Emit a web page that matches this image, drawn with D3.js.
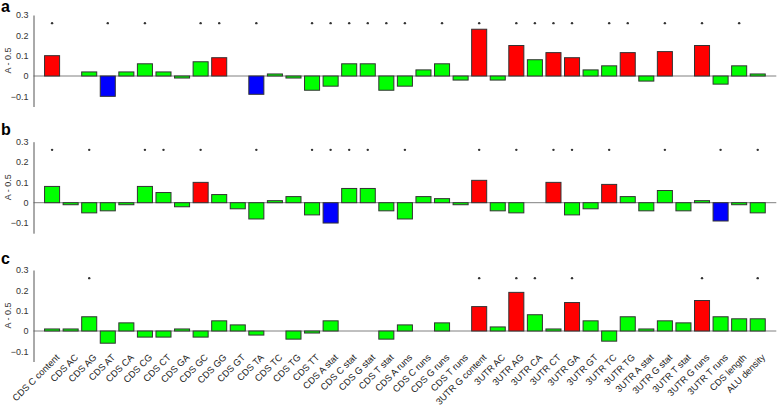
<!DOCTYPE html>
<html>
<head>
<meta charset="utf-8">
<script src="https://cdn.jsdelivr.net/npm/d3@7"></script>
<style>
  body { margin: 0; background: #fff; }
  svg { display: block; font-family: Arial, "Liberation Sans", sans-serif; }
</style>
</head>
<body>
<svg id="chart" width="778" height="405"></svg>
<script>
const categories = ["CDS C content", "CDS AC", "CDS AG", "CDS AT", "CDS CA", "CDS CG", "CDS CT", "CDS GA",
  "CDS GC", "CDS GG", "CDS GT", "CDS TA", "CDS TC", "CDS TG", "CDS TT", "CDS A stat", "CDS C stat",
  "CDS G stat", "CDS T stat", "CDS A runs", "CDS C runs", "CDS G runs", "CDS T runs", "3UTR G content",
  "3UTR AC", "3UTR AG", "3UTR CA", "3UTR CT", "3UTR GA", "3UTR GT", "3UTR TC", "3UTR TG", "3UTR A stat",
  "3UTR G stat", "3UTR T stat", "3UTR G runs", "3UTR T runs", "CDS length", "ALU density"];

const valuesA = [0.10, 0, 0.02, -0.10, 0.02, 0.06, 0.02, -0.01, 0.07, 0.09, 0, -0.09, 0.01, -0.01, -0.07,
  -0.05, 0.06, 0.06, -0.07, -0.05, 0.03, 0.06, -0.02, 0.23, -0.02, 0.15, 0.08, 0.115, 0.09, 0.03, 0.05,
  0.115, -0.025, 0.12, 0, 0.15, -0.04, 0.05, 0.01];
const valuesB = [0.08, -0.01, -0.05, -0.04, -0.01, 0.08, 0.05, -0.02, 0.10, 0.04, -0.03, -0.08, 0.01, 0.03,
  -0.06, -0.10, 0.07, 0.07, -0.04, -0.08, 0.03, 0.02, -0.01, 0.11, -0.04, -0.05, 0, 0.10, -0.06, -0.03,
  0.09, 0.03, -0.04, 0.06, -0.04, 0.01, -0.09, -0.01, -0.05];
const valuesC = [0.01, 0.01, 0.07, -0.06, 0.04, -0.03, -0.03, 0.01, -0.03, 0.05, 0.03, -0.02, 0, -0.04,
  -0.01, 0.05, 0, 0, -0.04, 0.03, 0, 0.04, 0, 0.12, 0.02, 0.19, 0.08, 0.01, 0.14, 0.05, -0.05, 0.07, 0.01,
  0.05, 0.04, 0.15, 0.07, 0.06, 0.06];

// 1-based positions of the categories marked with a dot
const signifA = [1, 4, 6, 9, 10, 12, 15, 16, 17, 18, 19, 20, 22, 24, 26, 27, 28, 29, 31, 32, 34, 36, 38];
const signifB = [1, 3, 6, 7, 9, 12, 15, 16, 17, 18, 20, 24, 26, 28, 29, 31, 34, 37, 39];
const signifC = [3, 24, 26, 27, 29, 36, 39];

const yTicks = [-0.1, 0, 0.1, 0.2, 0.3];

const panels = [
  {letter: "a", values: valuesA, signif: signifA, top: 15, letterY: 11.5},
  {letter: "b", values: valuesB, signif: signifB, top: 141.7, letterY: 135},
  {letter: "c", values: valuesC, signif: signifC, top: 270, letterY: 264}
];

const svg = d3.select("#chart");
const left = 33.5, right = 776.3;

const x = d3.scaleBand()
  .domain(categories)
  .range([left, right])
  .paddingInner(0.19)
  .paddingOuter(0.595);

function barColor(v, sig) {
  if (sig && v >= 0.085) return "#ff0000";
  if (sig && v <= -0.085) return "#0000ff";
  return "#00ff00";
}

panels.forEach(function(p, pi) {
  var y = d3.scaleLinear().domain([-0.15, 0.3]).range([p.top + 91.5, p.top]);
  var g = svg.append("g").attr("class", "panel");
  var data = categories.map(function(c, i) {
    return {cat: c, v: p.values[i], sig: p.signif.indexOf(i + 1) >= 0};
  });

  // zero line
  g.append("line")
    .attr("x1", left).attr("x2", right)
    .attr("y1", y(0)).attr("y2", y(0))
    .attr("stroke", "#808080").attr("stroke-width", 1);

  //Append the bars
  g.selectAll(".bar")
    .data(data.filter(function(d) { return d.v !== 0; }))
    .enter().append("rect")
    .attr("class", "bar")
    .attr("x", function(d) { return x(d.cat); })
    .attr("width", x.bandwidth())
    .attr("y", function(d) { return y(Math.max(0, d.v)); })
    .attr("height", function(d) { return Math.abs(y(d.v) - y(0)); })
    .style("fill", function(d) { return barColor(d.v, d.sig); })
    .style("stroke", "#333")
    .style("stroke-width", 1);

  //Append the significance dots
  g.selectAll(".dot")
    .data(data.filter(function(d) { return d.sig; }))
    .enter().append("circle")
    .attr("class", "dot")
    .attr("cx", function(d) { return x(d.cat) + x.bandwidth() / 2; })
    .attr("cy", y(0.26))
    .attr("r", 1.2)
    .style("fill", "#333");

  // y axis
  var yAxis = g.append("g")
    .attr("transform", "translate(" + left + ",0)")
    .call(d3.axisLeft(y).tickValues(yTicks).tickSize(0).tickPadding(5)
      .tickFormat(function(d) { return d === 0 ? "0" : d3.format(".1f")(d); }));
  yAxis.select(".domain").attr("stroke", "#555");
  yAxis.selectAll("text").attr("font-size", 9).attr("fill", "#333")
    .attr("font-family", "Arial, 'Liberation Sans', sans-serif");

  g.append("text")
    .attr("transform", "translate(10.5," + (p.top + 45.5) + ") rotate(-90)")
    .attr("text-anchor", "middle")
    .attr("font-size", 9)
    .attr("fill", "#333")
    .text("A - 0.5");

  g.append("text")
    .attr("x", 1).attr("y", p.letterY)
    .attr("font-size", 16)
    .attr("font-weight", "bold")
    .attr("fill", "#000")
    .text(p.letter);

  // category labels only under the last panel
  if (pi === panels.length - 1) {
    g.selectAll(".xlabel")
      .data(categories)
      .enter().append("text")
      .attr("class", "xlabel")
      .attr("transform", function(d) {
        return "translate(" + (x(d) + x.bandwidth() / 2 + 8) + ",358) rotate(-45)";
      })
      .attr("text-anchor", "end")
      .attr("font-size", 9.3)
      .attr("fill", "#222")
      .text(function(d) { return d; });
  }
});
</script>
</body>
</html>
